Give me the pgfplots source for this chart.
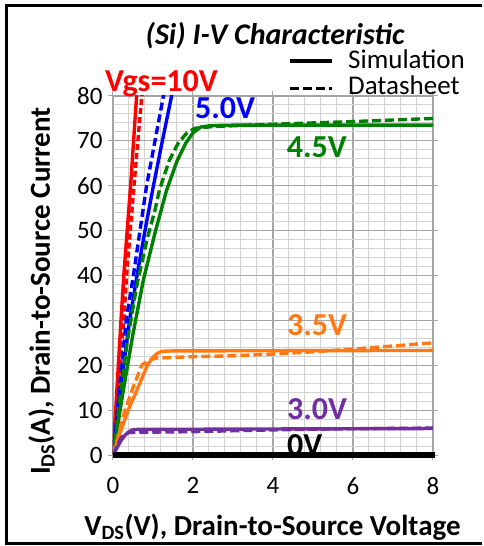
\documentclass[border=0pt]{standalone}
\usepackage{pgfplots}
\pgfplotsset{compat=1.18}
\usepackage{fontspec}
\setmainfont{Carlito}

\definecolor{gridmajor}{RGB}{165,165,165}
\definecolor{gridminor}{RGB}{210,210,210}
\definecolor{cred}{RGB}{255,0,0}
\definecolor{cblue}{RGB}{0,0,255}
\definecolor{cgreen}{RGB}{0,128,0}
\definecolor{corange}{RGB}{255,122,20}
\definecolor{cpurple}{RGB}{112,48,160}

\newcommand{\lbl}{\fontsize{32}{32}\selectfont\bfseries}

\begin{document}
\begin{tikzpicture}[x=1pt,y=1pt]
\path (-113,-91) rectangle (369,455);

\begin{axis}[
  at={(0,0)}, anchor=south west,
  scale only axis, width=320pt, height=359pt,
  xmin=0, xmax=8, ymin=0, ymax=80,
  xtick={0,2,...,8}, ytick={0,10,...,80},
  minor x tick num=4, minor y tick num=4,
  grid=both,
  major grid style={draw=gridmajor, line width=1.2pt},
  minor grid style={draw=gridminor, line width=1pt},
  axis line style={draw=gridmajor, line width=1.2pt},
  tick align=outside, major tick length=5pt, minor tick length=0pt,
  tick style={draw=gridmajor, line width=1pt},
  ticklabel style={font=\fontsize{25}{25}\selectfont},
  /pgf/number format/assume math mode=true,
  xticklabel style={yshift=-14pt},
  yticklabel style={xshift=-2pt},
  every axis plot/.append style={line width=3.4pt, line join=round},
  clip=true,
]
% Vgs = 10 V
\addplot[cred] coordinates {(0,0) (0.2,30) (0.27,40) (0.44,60) (0.59,80) (0.66,90)};
\addplot[cred, dash pattern=on 6pt off 3pt] coordinates {(0,0) (0.27,30) (0.34,40) (0.525,60) (0.72,80) (0.8,90)};
% Vgs = 5.0 V
\addplot[cblue] coordinates {(0,0) (0.2,15.5) (0.4,29) (0.6,40) (0.8,50) (1.0,59.5) (1.2,68.5) (1.43,78.5) (1.5,81.5)};
\addplot[cblue, dash pattern=on 8pt off 4pt] coordinates {(0,0) (0.33,30) (0.51,40) (0.84,60) (1.05,70) (1.26,80) (1.35,84)};
% Vgs = 4.5 V
\addplot[cgreen] coordinates {(0,0) (0.25,14) (0.5,27) (0.76,39) (1.05,49.5) (1.34,59) (1.6,65.5) (1.82,69.5) (2.0,71.8) (2.2,73.1) (2.45,73.4) (3,73.5) (8,73.5)};
\addplot[cgreen, dash pattern=on 9pt off 4pt] coordinates {(0,0) (0.35,25) (0.6,38) (0.85,48) (1.05,54.6) (1.16,59) (1.4,65.5) (1.63,69.5) (1.85,71.8) (2.05,72.8) (2.5,73.2) (4,73.7) (6,74.3) (8,75)};
% Vgs = 3.5 V
\addplot[corange] coordinates {(0,0) (0.2,5.5) (0.38,10) (0.6,14.5) (0.86,20) (1.0,21.8) (1.1,22.6) (1.22,23.1) (1.5,23.2) (8,23.3)};
\addplot[corange, dash pattern=on 9pt off 4pt] coordinates {(0,0) (0.3,10) (0.5,15) (0.72,20) (0.9,21.2) (1.1,21.6) (2,21.9) (3,22.1) (4,22.5) (5,23) (6,23.6) (7,24.3) (8,25)};
% Vgs = 3.0 V
\addplot[cpurple] coordinates {(0,0) (0.1,1.6) (0.2,3.2) (0.3,4.4) (0.4,5.2) (0.5,5.6) (0.6,5.7) (4,5.8) (8,5.9)};
\addplot[cpurple, dash pattern=on 9pt off 4pt] coordinates {(0,0) (0.1,2) (0.2,3.8) (0.3,4.7) (0.4,5) (1,5.1) (2,5.2) (3,5.4) (4,5.6) (5,5.75) (6,5.85) (8,6.0)};
\end{axis}

% label of the 0 V curve sits under its line
\node[anchor=base west, inner sep=0pt, text=black] at (174,0) {\lbl 0V};
\begin{axis}[
  at={(0,0)}, anchor=south west,
  scale only axis, width=320pt, height=359pt,
  xmin=0, xmax=8, ymin=0, ymax=80,
  hide axis, clip=false,
]
% Vgs = 0 V
\addplot[black, line width=5pt] coordinates {(0,0) (8.05,0)};
\end{axis}

\node[anchor=base west, inner sep=0pt, text=cred] at (-8,363.3) {\lbl Vgs=10V};
\node[anchor=base west, inner sep=0pt, text=cblue] at (82,336.7) {\lbl 5.0V};
\node[anchor=base west, inner sep=0pt, text=cgreen] at (173.7,297.7) {\lbl 4.5V};
\node[anchor=base west, inner sep=0pt, text=corange] at (174,119) {\lbl 3.5V};
\node[anchor=base west, inner sep=0pt, text=cpurple] at (174,35) {\lbl 3.0V};

% legend
\draw[line width=3.4pt] (177,394) -- (219,394);
\draw[line width=3.4pt, dash pattern=on 9pt off 4pt] (177,366.7) -- (219,366.7);
\node[anchor=base west, inner sep=0pt] at (235,386) {\fontsize{27}{27}\selectfont Simulation};
\node[anchor=base west, inner sep=0pt] at (235,360) {\fontsize{27}{27}\selectfont Datasheet};

% title and axis titles
\node[anchor=base, inner sep=0pt] at (162,410.5) {\fontsize{30}{30}\selectfont\bfseries\itshape (Si) I-V Characteristic};
\node[anchor=base, inner sep=0pt, rotate=90] at (-63,164) {\fontsize{29}{29}\selectfont\bfseries I\textsubscript{DS}(A), Drain-to-Source Current};
\node[anchor=base, inner sep=0pt] at (159.5,-80) {\fontsize{29}{29}\selectfont\bfseries V\textsubscript{DS}(V), Drain-to-Source Voltage};

% frame
\draw[line width=3pt] (369,449) -- (-106.5,449) -- (-106.5,-88) -- (369,-88);
\end{tikzpicture}
\end{document}
